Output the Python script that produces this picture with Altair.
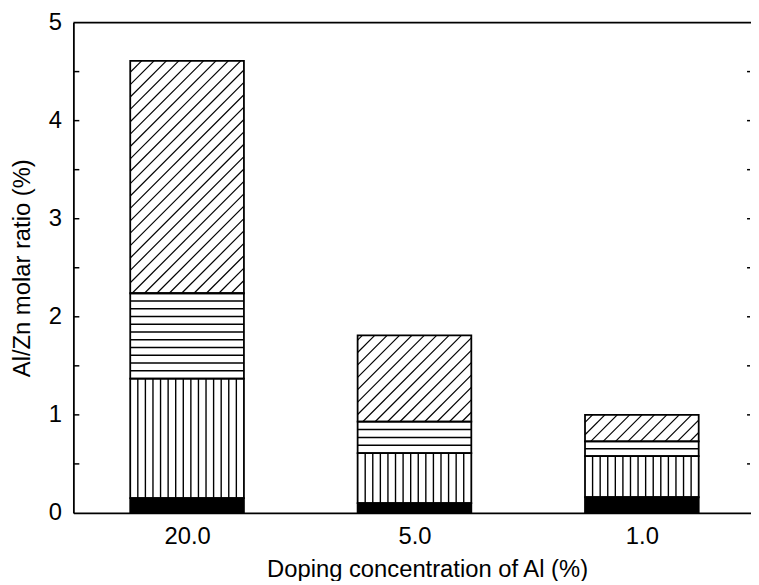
import altair as alt
import pandas as pd
import numpy as np

# ---- data ----
categories = ["20.0", "5.0", "1.0"]          # doping concentration of Al (%)
positions = [1, 2, 3]
# cumulative tops of each stacked part (Al/Zn molar ratio, %)
top_solid = [0.15, 0.10, 0.16]
top_vertical = [1.37, 0.61, 0.58]
top_horizontal = [2.24, 0.93, 0.73]
top_diagonal = [4.61, 1.81, 1.00]
y_label_values = [0, 1, 2, 3, 4, 5]
y_minor_ticks = [0.5, 1, 1.5, 2, 2.5, 3, 3.5, 4, 4.5]

# ---- layout ----
W, H = 684, 495
XDOM = [0.5, 3.48]
YDOM = [0, 5]
HALF = 0.25
FONT = "Liberation Sans"
kx = W / (XDOM[1] - XDOM[0])
ky = H / (YDOM[1] - YDOM[0])

segs = []
hatch = []
for p, s, v, h, d in zip(positions, top_solid, top_vertical, top_horizontal, top_diagonal):
    x0, x1 = p - HALF, p + HALF
    segs.append(dict(x0=x0, x1=x1, y0=0, y1=s, fill="black"))
    segs.append(dict(x0=x0, x1=x1, y0=s, y1=v, fill="white"))
    segs.append(dict(x0=x0, x1=x1, y0=v, y1=h, fill="white"))
    segs.append(dict(x0=x0, x1=x1, y0=h, y1=d, fill="white"))
    # vertical hatch
    for k in range(1, 15):
        xx = x0 + k * (x1 - x0) / 15
        hatch.append(dict(x0=xx, x1=xx, y0=s, y1=v, w=1.4))
    # horizontal hatch
    n = max(1, int(round((h - v) * ky / 7.8)))
    for k in range(1, n):
        yy = v + k * (h - v) / n
        hatch.append(dict(x0=x0, x1=x1, y0=yy, y1=yy, w=1.6))
    # diagonal hatch (45 degrees in pixel space)
    X0, X1 = (x0 - XDOM[0]) * kx, (x1 - XDOM[0]) * kx
    Y0, Y1 = h * ky, d * ky
    step = 12.5
    c = np.floor((Y0 - X1) / step) * step
    while c < Y1 - X0:
        xs = max(X0, Y0 - c)
        xe = min(X1, Y1 - c)
        if xe - xs > 0.5:
            hatch.append(dict(x0=xs / kx + XDOM[0], x1=xe / kx + XDOM[0],
                              y0=(xs + c) / ky, y1=(xe + c) / ky, w=1.2))
        c += step

seg_df = pd.DataFrame(segs)
hatch_df = pd.DataFrame(hatch)
tick_df = pd.DataFrame({"y0": y_minor_ticks})
top_df = pd.DataFrame({"y0": [YDOM[1]]})

label_expr = " : ".join(
    [f"datum.value == {p} ? '{c}'" for p, c in zip(positions[:-1], categories[:-1])]
) + f" : '{categories[-1]}'"

xscale = alt.Scale(domain=XDOM, nice=False, zero=False)
yscale = alt.Scale(domain=YDOM, nice=False)

xaxis = alt.Axis(values=positions, labelExpr=label_expr, ticks=False, grid=False,
                 labelFlush=False, domainColor="black", domainWidth=1.8,
                 labelFont=FONT, labelFontSize=24, labelColor="black", labelPadding=12,
                 title="Doping concentration of Al (%)", titleFont=FONT,
                 titleFontSize=24, titleFontWeight="normal", titleColor="black",
                 titlePadding=9, titleX=357)
yaxis = alt.Axis(values=y_label_values, ticks=False, grid=False,
                 domainColor="black", domainWidth=1.8,
                 labelFont=FONT, labelFontSize=24, labelColor="black", labelPadding=12,
                 title="Al/Zn molar ratio (%)", titleFont=FONT, titleFontSize=24,
                 titleFontWeight="normal", titleColor="black", titlePadding=14)

X = alt.X("x0:Q", scale=xscale, axis=xaxis)
Y = alt.Y("y0:Q", scale=yscale, axis=yaxis)

base_fill = alt.Chart(seg_df).mark_rect(strokeWidth=0).encode(
    x=X, x2="x1:Q", y=Y, y2="y1:Q",
    fill=alt.Fill("fill:N", scale=None),
)

hatch_layer = alt.Chart(hatch_df).mark_rule(color="black").encode(
    x=X, x2="x1:Q", y=Y, y2="y1:Q",
    strokeWidth=alt.StrokeWidth("w:Q", scale=None),
)

outline = alt.Chart(seg_df).mark_rect(fillOpacity=0, stroke="black", strokeWidth=1.8).encode(
    x=X, x2="x1:Q", y=Y, y2="y1:Q",
)

left_ticks = alt.Chart(tick_df).mark_rule(color="black", strokeWidth=1.5).encode(
    y=Y, x=alt.value(0), x2=alt.value(6),
)
right_ticks = alt.Chart(tick_df).mark_rule(color="black", strokeWidth=1.5).encode(
    y=Y, x=alt.value(W - 4), x2=alt.value(W - 1),
)
top_line = alt.Chart(top_df).mark_rule(color="black", strokeWidth=1.8).encode(
    y=Y, x=alt.value(0), x2=alt.value(W),
)

chart = alt.layer(base_fill, hatch_layer, outline, left_ticks, right_ticks, top_line).properties(
    width=W,
    height=H,
    autosize=alt.AutoSizeParams(type="none"),
    padding={"left": 66, "top": 12, "right": 0, "bottom": 66},
    background="white",
).configure_view(stroke=None)

chart.save("out.html", embed_options={"renderer": "svg", "actions": False})
